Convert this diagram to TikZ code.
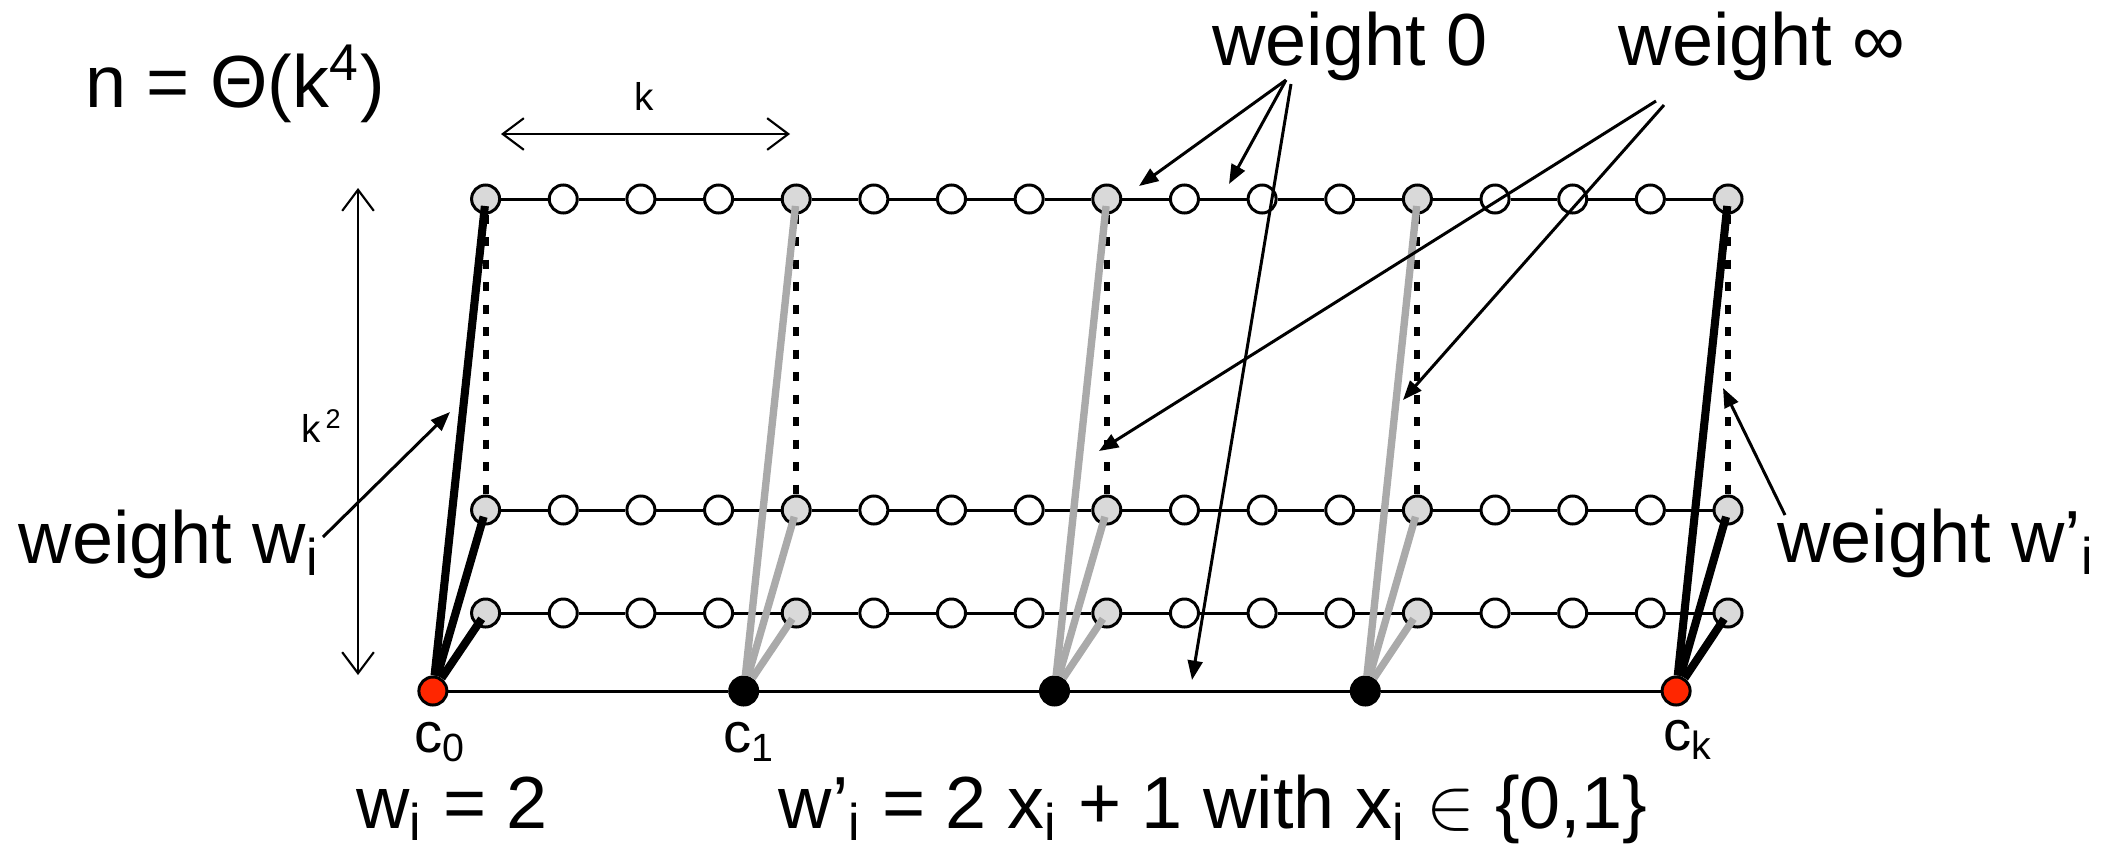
\documentclass[tikz,border=0pt]{standalone}
\usepackage{fontspec}
\setmainfont{Liberation Sans}
\usetikzlibrary{arrows.meta}
\definecolor{hubred}{RGB}{255,38,0}
\definecolor{portgray}{RGB}{217,217,217}
\definecolor{linkgray}{RGB}{170,170,170}
\tikzset{
  vertex/.style={draw, circle, fill=white, line width=0.85pt, minimum size=0.28cm, inner sep=0pt},
  port/.style={vertex, fill=portgray},
  hub/.style={vertex, fill=black},
  endhub/.style={vertex, fill=hubred},
  rowline/.style={line width=0.85pt},
  blacklink/.style={line width=2.3pt, shorten >=0.07cm},
  graylink/.style={line width=2.1pt, linkgray, shorten >=0.07cm},
  dotlink/.style={line width=1.7pt, dash pattern=on 2.6pt off 3.8pt},
  pointer/.style={-{Triangle[length=5.5pt,width=4.2pt]}, line width=0.85pt},
  measure/.style={{Straight Barb[length=6pt,width=9pt]}-{Straight Barb[length=6pt,width=9pt]}, line width=0.6pt},
  biglabel/.style={font=\fontsize{21}{25}\selectfont, inner sep=0pt},
  sublabel/.style={font=\fontsize{16}{19}\selectfont, inner sep=0pt},
  smalllabel/.style={font=\fontsize{11}{13}\selectfont, inner sep=0pt}
}

\begin{document}
\begin{tikzpicture}[x=0.01cm,y=-0.01cm]
  \useasboundingbox (0,0) rectangle (2121,848);

  % three rows of path vertices
  \foreach \j in {0,...,16} {
    \pgfmathtruncatemacro\r{mod(\j,4)}
    \ifnum\r=0 \def\kind{port}\else\def\kind{vertex}\fi
    \node[\kind] (t\j) at (485.6+77.65*\j,199) {};
    \node[\kind] (m\j) at (485.6+77.65*\j,510) {};
    \node[\kind] (l\j) at (485.6+77.65*\j,613) {};
  }
  \foreach \j [evaluate=\j as \k using int(\j+1)] in {0,...,15} {
    \draw[rowline] (t\j) -- (t\k);
    \draw[rowline] (m\j) -- (m\k);
    \draw[rowline] (l\j) -- (l\k);
  }

  % base path with the centres
  \node[endhub] (c0) at (432.9,691) {};
  \node[hub] (c1) at (743.7,691) {};
  \node[hub] (c2) at (1054.5,691) {};
  \node[hub] (c3) at (1365.3,691) {};
  \node[endhub] (c4) at (1676.1,691) {};
  \foreach \m [evaluate=\m as \n using int(\m+1)] in {0,...,3}
    \draw[rowline] (c\m) -- (c\n);

  % vertical columns
  \foreach \j in {0,4,8,12,16}
    \draw[dotlink] (t\j) -- (m\j);
  \foreach \m [evaluate=\m as \j using int(4*\m)] in {1,2,3} {
    \draw[graylink] (c\m) -- (t\j.center);
    \draw[graylink] (c\m) -- (m\j.center);
    \draw[graylink] (c\m) -- (l\j.center);
  }
  \foreach \m/\j in {0/0,4/16} {
    \draw[blacklink] (c\m) -- (t\j.center);
    \draw[blacklink] (c\m) -- (m\j.center);
    \draw[blacklink] (c\m) -- (l\j.center);
  }

  % labels
  \node[sublabel, anchor=base] (name0) at (440,752) {c\textsubscript{0}};
  \node[sublabel, anchor=base] (name1) at (749,752) {c\textsubscript{1}};
  \node[sublabel, anchor=base] (namek) at (1688,750) {c\textsubscript{k}};
  \node[biglabel, anchor=base] (size) at (235,107) {n = Θ(k\textsuperscript{4})};
  \node[biglabel, anchor=base] (zero) at (1350,65) {weight 0};
  \node[biglabel, anchor=base] (inf) at (1762,65) {weight ∞};
  \node[biglabel, anchor=base] (wleft) at (169,563) {weight w\textsubscript{i}};
  \node[biglabel, anchor=base] (wright) at (1936,562) {weight w’\textsubscript{i}};
  \node[biglabel, anchor=base] (wrule) at (452,828) {w\textsubscript{i} = 2};
  \node[biglabel, anchor=base] (wprule) at (1213,828) {w’\textsubscript{i} = 2 x\textsubscript{i} + 1 with x\textsubscript{i} $\in$ \{0,1\}};

  % measures
  \coordinate (kleft) at (501,134);
  \coordinate (kright) at (790,134);
  \draw[measure] (kleft) -- (kright);
  \node[smalllabel, anchor=base] (klabel) at (644,110) {k};
  \coordinate (ktop) at (358,188);
  \coordinate (kbottom) at (358,675);
  \draw[measure] (ktop) -- (kbottom);
  \node[smalllabel, anchor=base] (ksq) at (322,442) {k\textsuperscript{\,2}};

  % pointers
  \coordinate (zfrom) at (1286,80);
  \coordinate (zfromb) at (1291,84);
  \coordinate (ztipa) at (1139,186);
  \coordinate (ztipb) at (1229,184);
  \coordinate (ztipc) at (1192,680);
  \draw[pointer] (zfrom) -- (ztipa);
  \draw[pointer] (zfrom) -- (ztipb);
  \draw[pointer] (zfromb) -- (ztipc);
  \coordinate (ifroma) at (1656,101);
  \coordinate (ifromb) at (1664,105);
  \coordinate (itipa) at (1099,451);
  \coordinate (itipb) at (1403,400);
  \draw[pointer] (ifroma) -- (itipa);
  \draw[pointer] (ifromb) -- (itipb);
  \coordinate (wlfrom) at (323,537);
  \coordinate (wltip) at (450,412);
  \draw[pointer] (wlfrom) -- (wltip);
  \coordinate (wrfrom) at (1785,515);
  \coordinate (wrtip) at (1723,388);
  \draw[pointer] (wrfrom) -- (wrtip);
\end{tikzpicture}
\end{document}
